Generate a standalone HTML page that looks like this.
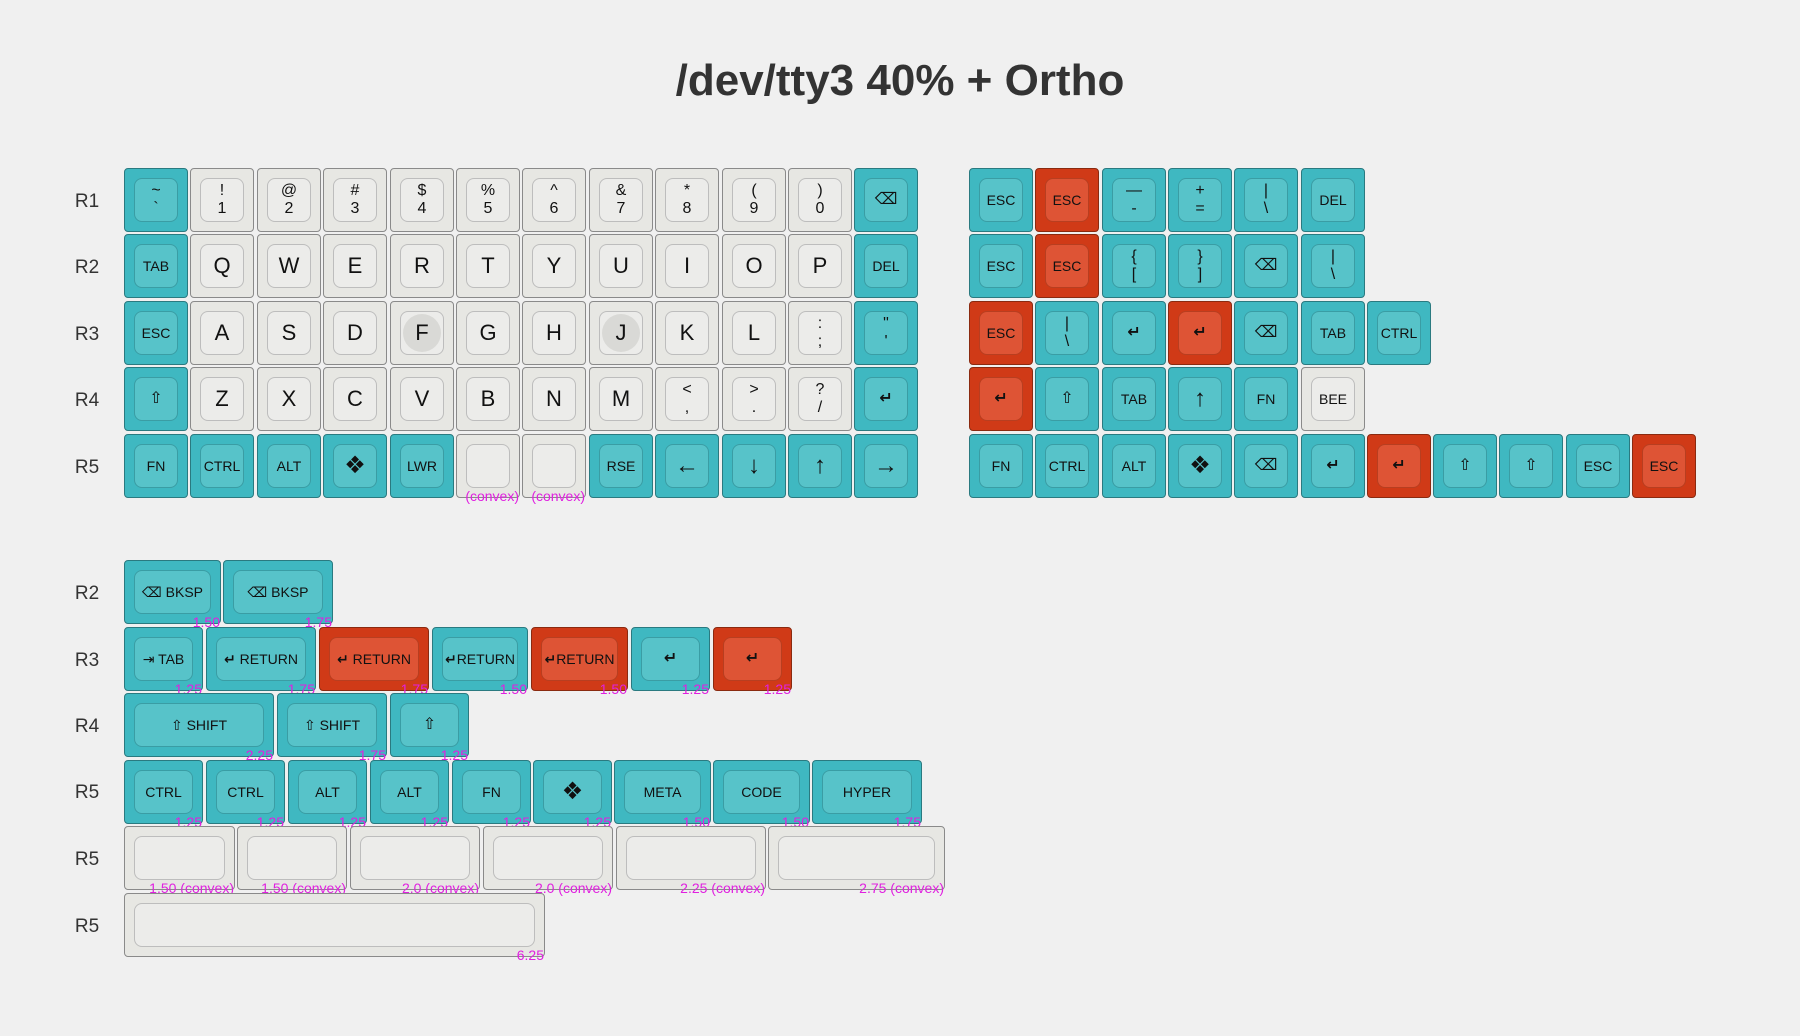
<!DOCTYPE html>
<html><head><meta charset="utf-8">
<style>
body{margin:0;width:1800px;height:1036px;background:#f0f0f0;position:relative;overflow:hidden;font-family:"Liberation Sans","DejaVu Sans",sans-serif;color:#111}
.title{position:absolute;left:0;width:1800px;top:56px;text-align:center;font-size:44px;font-weight:bold;color:#333}
.r{position:absolute;width:60px;left:57px;text-align:center;font-size:19px;color:#333;line-height:20px}
.k{position:absolute;height:64px;width:64px;box-sizing:border-box;border-radius:4px;border:1px solid #2a7a80;background:#3fb8c1}
.k .i{position:absolute;left:9px;right:9px;top:9px;bottom:9px;border-radius:8px;border:1px solid #3a9da4;background:#57c3c9;display:flex;align-items:center;justify-content:center;font-size:14px;text-align:center;line-height:1.15}
.k.o{background:#d03a17;border-color:#8a2a10}
.k.o .i{background:#de5435;border-color:#b83e20}
.k.w{background:#e7e7e3;border-color:#8a8a8a}
.k.w .i{background:#ececea;border-color:#bdbdbd}
.L{font-size:22px!important}
.d{font-size:16px!important}
.a{font-size:24px!important;font-weight:bold}
.bump{position:absolute;left:2px;top:2px;width:38px;height:38px;border-radius:50%;background:#d9d9d6}
.bl{position:relative}
.n{position:absolute;right:0;bottom:-6px;font-size:14px;color:#e020e0;white-space:nowrap;line-height:14px}
</style></head><body>
<div class="title">/dev/tty3 40% + Ortho</div>

<div class="r" style="top:192px">R1</div>
<div class="r" style="top:258px">R2</div>
<div class="r" style="top:325px">R3</div>
<div class="r" style="top:391px">R4</div>
<div class="r" style="top:458px">R5</div>
<div class="r" style="top:584px">R2</div>
<div class="r" style="top:651px">R3</div>
<div class="r" style="top:717px">R4</div>
<div class="r" style="top:783px">R5</div>
<div class="r" style="top:850px">R5</div>
<div class="r" style="top:917px">R5</div>

<!-- R1 -->
<div class="k" style="left:124px;top:168px"><div class="i d">~<br>`</div></div>
<div class="k w" style="left:190px;top:168px"><div class="i d">!<br>1</div></div>
<div class="k w" style="left:257px;top:168px"><div class="i d">@<br>2</div></div>
<div class="k w" style="left:323px;top:168px"><div class="i d">#<br>3</div></div>
<div class="k w" style="left:390px;top:168px"><div class="i d">$<br>4</div></div>
<div class="k w" style="left:456px;top:168px"><div class="i d">%<br>5</div></div>
<div class="k w" style="left:522px;top:168px"><div class="i d">^<br>6</div></div>
<div class="k w" style="left:589px;top:168px"><div class="i d">&amp;<br>7</div></div>
<div class="k w" style="left:655px;top:168px"><div class="i d">*<br>8</div></div>
<div class="k w" style="left:722px;top:168px"><div class="i d">(<br>9</div></div>
<div class="k w" style="left:788px;top:168px"><div class="i d">)<br>0</div></div>
<div class="k" style="left:854px;top:168px"><div class="i d">⌫</div></div>
<!-- R2 -->
<div class="k" style="left:124px;top:234px"><div class="i">TAB</div></div>
<div class="k w" style="left:190px;top:234px"><div class="i L">Q</div></div>
<div class="k w" style="left:257px;top:234px"><div class="i L">W</div></div>
<div class="k w" style="left:323px;top:234px"><div class="i L">E</div></div>
<div class="k w" style="left:390px;top:234px"><div class="i L">R</div></div>
<div class="k w" style="left:456px;top:234px"><div class="i L">T</div></div>
<div class="k w" style="left:522px;top:234px"><div class="i L">Y</div></div>
<div class="k w" style="left:589px;top:234px"><div class="i L">U</div></div>
<div class="k w" style="left:655px;top:234px"><div class="i L">I</div></div>
<div class="k w" style="left:722px;top:234px"><div class="i L">O</div></div>
<div class="k w" style="left:788px;top:234px"><div class="i L">P</div></div>
<div class="k" style="left:854px;top:234px"><div class="i">DEL</div></div>
<!-- R3 -->
<div class="k" style="left:124px;top:301px"><div class="i">ESC</div></div>
<div class="k w" style="left:190px;top:301px"><div class="i L">A</div></div>
<div class="k w" style="left:257px;top:301px"><div class="i L">S</div></div>
<div class="k w" style="left:323px;top:301px"><div class="i L">D</div></div>
<div class="k w" style="left:390px;top:301px"><div class="i L"><div class="bump"></div><span class="bl">F</span></div></div>
<div class="k w" style="left:456px;top:301px"><div class="i L">G</div></div>
<div class="k w" style="left:522px;top:301px"><div class="i L">H</div></div>
<div class="k w" style="left:589px;top:301px"><div class="i L"><div class="bump"></div><span class="bl">J</span></div></div>
<div class="k w" style="left:655px;top:301px"><div class="i L">K</div></div>
<div class="k w" style="left:722px;top:301px"><div class="i L">L</div></div>
<div class="k w" style="left:788px;top:301px"><div class="i d">:<br>;</div></div>
<div class="k" style="left:854px;top:301px"><div class="i d">"<br>'</div></div>
<!-- R4 -->
<div class="k" style="left:124px;top:367px"><div class="i d">⇧</div></div>
<div class="k w" style="left:190px;top:367px"><div class="i L">Z</div></div>
<div class="k w" style="left:257px;top:367px"><div class="i L">X</div></div>
<div class="k w" style="left:323px;top:367px"><div class="i L">C</div></div>
<div class="k w" style="left:390px;top:367px"><div class="i L">V</div></div>
<div class="k w" style="left:456px;top:367px"><div class="i L">B</div></div>
<div class="k w" style="left:522px;top:367px"><div class="i L">N</div></div>
<div class="k w" style="left:589px;top:367px"><div class="i L">M</div></div>
<div class="k w" style="left:655px;top:367px"><div class="i d">&lt;<br>,</div></div>
<div class="k w" style="left:722px;top:367px"><div class="i d">&gt;<br>.</div></div>
<div class="k w" style="left:788px;top:367px"><div class="i d">?<br>/</div></div>
<div class="k" style="left:854px;top:367px"><div class="i d"><b>↵</b></div></div>
<!-- R5 -->
<div class="k" style="left:124px;top:434px"><div class="i">FN</div></div>
<div class="k" style="left:190px;top:434px"><div class="i">CTRL</div></div>
<div class="k" style="left:257px;top:434px"><div class="i">ALT</div></div>
<div class="k" style="left:323px;top:434px"><div class="i a">❖</div></div>
<div class="k" style="left:390px;top:434px"><div class="i">LWR</div></div>
<div class="k w" style="left:456px;top:434px"><div class="i"></div><span class="n">(convex)</span></div>
<div class="k w" style="left:522px;top:434px"><div class="i"></div><span class="n">(convex)</span></div>
<div class="k" style="left:589px;top:434px"><div class="i">RSE</div></div>
<div class="k" style="left:655px;top:434px"><div class="i a">←</div></div>
<div class="k" style="left:722px;top:434px"><div class="i a">↓</div></div>
<div class="k" style="left:788px;top:434px"><div class="i a">↑</div></div>
<div class="k" style="left:854px;top:434px"><div class="i a">→</div></div>

<!-- Right block -->
<div class="k" style="left:969px;top:168px"><div class="i">ESC</div></div>
<div class="k o" style="left:1035px;top:168px"><div class="i">ESC</div></div>
<div class="k" style="left:1102px;top:168px"><div class="i d">—<br>-</div></div>
<div class="k" style="left:1168px;top:168px"><div class="i d">+<br>=</div></div>
<div class="k" style="left:1234px;top:168px"><div class="i d">|<br>\</div></div>
<div class="k" style="left:1301px;top:168px"><div class="i">DEL</div></div>

<div class="k" style="left:969px;top:234px"><div class="i">ESC</div></div>
<div class="k o" style="left:1035px;top:234px"><div class="i">ESC</div></div>
<div class="k" style="left:1102px;top:234px"><div class="i d">{<br>[</div></div>
<div class="k" style="left:1168px;top:234px"><div class="i d">}<br>]</div></div>
<div class="k" style="left:1234px;top:234px"><div class="i d">⌫</div></div>
<div class="k" style="left:1301px;top:234px"><div class="i d">|<br>\</div></div>

<div class="k o" style="left:969px;top:301px"><div class="i">ESC</div></div>
<div class="k" style="left:1035px;top:301px"><div class="i d">|<br>\</div></div>
<div class="k" style="left:1102px;top:301px"><div class="i d"><b>↵</b></div></div>
<div class="k o" style="left:1168px;top:301px"><div class="i d"><b>↵</b></div></div>
<div class="k" style="left:1234px;top:301px"><div class="i d">⌫</div></div>
<div class="k" style="left:1301px;top:301px"><div class="i">TAB</div></div>
<div class="k" style="left:1367px;top:301px"><div class="i">CTRL</div></div>

<div class="k o" style="left:969px;top:367px"><div class="i d"><b>↵</b></div></div>
<div class="k" style="left:1035px;top:367px"><div class="i d">⇧</div></div>
<div class="k" style="left:1102px;top:367px"><div class="i">TAB</div></div>
<div class="k" style="left:1168px;top:367px"><div class="i a">↑</div></div>
<div class="k" style="left:1234px;top:367px"><div class="i">FN</div></div>
<div class="k w" style="left:1301px;top:367px"><div class="i">BEE</div></div>

<div class="k" style="left:969px;top:434px"><div class="i">FN</div></div>
<div class="k" style="left:1035px;top:434px"><div class="i">CTRL</div></div>
<div class="k" style="left:1102px;top:434px"><div class="i">ALT</div></div>
<div class="k" style="left:1168px;top:434px"><div class="i a">❖</div></div>
<div class="k" style="left:1234px;top:434px"><div class="i d">⌫</div></div>
<div class="k" style="left:1301px;top:434px"><div class="i d"><b>↵</b></div></div>
<div class="k o" style="left:1367px;top:434px"><div class="i d"><b>↵</b></div></div>
<div class="k" style="left:1433px;top:434px"><div class="i d">⇧</div></div>
<div class="k" style="left:1499px;top:434px"><div class="i d">⇧</div></div>
<div class="k" style="left:1566px;top:434px"><div class="i">ESC</div></div>
<div class="k o" style="left:1632px;top:434px"><div class="i">ESC</div></div>

<!-- Bottom section R2 -->
<div class="k" style="left:124px;top:560px;width:97px"><div class="i">⌫ BKSP</div><span class="n">1.50</span></div>
<div class="k" style="left:223px;top:560px;width:110px"><div class="i">⌫ BKSP</div><span class="n">1.75</span></div>
<!-- R3 -->
<div class="k" style="left:124px;top:627px;width:79px"><div class="i">⇥ TAB</div><span class="n">1.25</span></div>
<div class="k" style="left:206px;top:627px;width:110px"><div class="i"><b>↵</b>&nbsp;RETURN</div><span class="n">1.75</span></div>
<div class="k o" style="left:319px;top:627px;width:110px"><div class="i"><b>↵</b>&nbsp;RETURN</div><span class="n">1.75</span></div>
<div class="k" style="left:432px;top:627px;width:96px"><div class="i"><b>↵</b>RETURN</div><span class="n">1.50</span></div>
<div class="k o" style="left:531px;top:627px;width:97px"><div class="i"><b>↵</b>RETURN</div><span class="n">1.50</span></div>
<div class="k" style="left:631px;top:627px;width:79px"><div class="i d"><b>↵</b></div><span class="n">1.25</span></div>
<div class="k o" style="left:713px;top:627px;width:79px"><div class="i d"><b>↵</b></div><span class="n">1.25</span></div>
<!-- R4 -->
<div class="k" style="left:124px;top:693px;width:150px"><div class="i">⇧ SHIFT</div><span class="n">2.25</span></div>
<div class="k" style="left:277px;top:693px;width:110px"><div class="i">⇧ SHIFT</div><span class="n">1.75</span></div>
<div class="k" style="left:390px;top:693px;width:79px"><div class="i d">⇧</div><span class="n">1.25</span></div>
<!-- R5 -->
<div class="k" style="left:124px;top:760px;width:79px"><div class="i">CTRL</div><span class="n">1.25</span></div>
<div class="k" style="left:206px;top:760px;width:79px"><div class="i">CTRL</div><span class="n">1.25</span></div>
<div class="k" style="left:288px;top:760px;width:79px"><div class="i">ALT</div><span class="n">1.25</span></div>
<div class="k" style="left:370px;top:760px;width:79px"><div class="i">ALT</div><span class="n">1.25</span></div>
<div class="k" style="left:452px;top:760px;width:79px"><div class="i">FN</div><span class="n">1.25</span></div>
<div class="k" style="left:533px;top:760px;width:79px"><div class="i a">❖</div><span class="n">1.25</span></div>
<div class="k" style="left:614px;top:760px;width:97px"><div class="i">META</div><span class="n">1.50</span></div>
<div class="k" style="left:713px;top:760px;width:97px"><div class="i">CODE</div><span class="n">1.50</span></div>
<div class="k" style="left:812px;top:760px;width:110px"><div class="i">HYPER</div><span class="n">1.75</span></div>
<!-- R5 convex -->
<div class="k w" style="left:124px;top:826px;width:111px"><div class="i"></div><span class="n">1.50 (convex)</span></div>
<div class="k w" style="left:237px;top:826px;width:110px"><div class="i"></div><span class="n">1.50 (convex)</span></div>
<div class="k w" style="left:350px;top:826px;width:130px"><div class="i"></div><span class="n">2.0 (convex)</span></div>
<div class="k w" style="left:483px;top:826px;width:130px"><div class="i"></div><span class="n">2.0 (convex)</span></div>
<div class="k w" style="left:616px;top:826px;width:150px"><div class="i"></div><span class="n">2.25 (convex)</span></div>
<div class="k w" style="left:768px;top:826px;width:177px"><div class="i"></div><span class="n">2.75 (convex)</span></div>
<!-- R5 space -->
<div class="k w" style="left:124px;top:893px;width:421px"><div class="i"></div><span class="n">6.25</span></div>
</body></html>
